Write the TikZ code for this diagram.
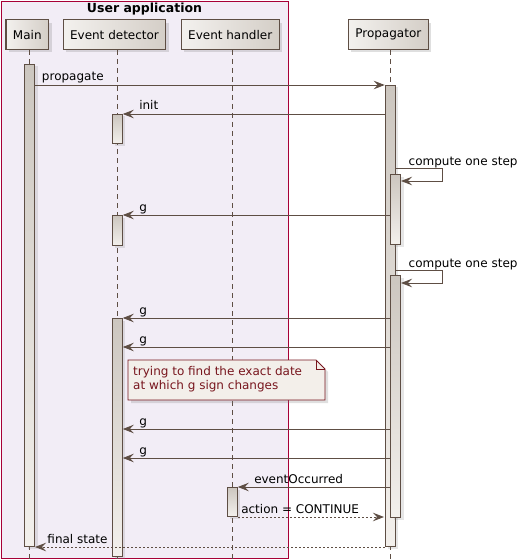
\documentclass[tikz,border=0pt]{standalone}
\usepackage{fontspec}
\setmainfont{DejaVu Sans}
\usetikzlibrary{arrows.meta, calc, shadows}
\definecolor{boxfill}{RGB}{242, 237, 246}
\definecolor{boxline}{RGB}{168, 0, 54}
\definecolor{partlight}{RGB}{243, 241, 238}
\definecolor{partdark}{RGB}{212, 206, 199}
\definecolor{actdark}{RGB}{204, 198, 191}
\definecolor{actlight}{RGB}{243, 240, 236}
\definecolor{brownline}{RGB}{94, 78, 68}
\definecolor{notefill}{RGB}{243, 239, 234}
\definecolor{notetext}{RGB}{120, 22, 30}

\begin{document}
\begin{tikzpicture}[
    x=1pt, y=-1pt,
    userbox/.style={draw=boxline, line width=0.9pt, fill=boxfill, inner sep=0pt},
    boxtitle/.style={anchor=base, inner sep=0pt, font=\fontsize{12.5}{14}\selectfont\bfseries},
    participant/.style={draw=brownline, line width=1.1pt, left color=partlight, right color=partdark,
                        minimum height=29.5pt, inner xsep=7pt, font=\fontsize{12}{14}\selectfont,
                        drop shadow={shadow xshift=3pt, shadow yshift=-3pt, opacity=0.25}},
    lifeline/.style={draw=brownline, line width=0.9pt, dash pattern=on 5pt off 4pt},
    activation/.style={draw=brownline, line width=1pt, top color=actdark, bottom color=actlight,
                       anchor=north, minimum width=10pt, inner sep=0pt,
                       drop shadow={shadow xshift=3pt, shadow yshift=-2pt, opacity=0.2}},
    msg/.style={draw=brownline, line width=0.9pt, -{Stealth[length=11pt, width=8.5pt, inset=4pt]}},
    ret/.style={msg, dash pattern=on 2pt off 2pt},
    lbl/.style={anchor=base west, inner sep=0pt, font=\fontsize{12}{14}\selectfont, text=black},
    note/.style={draw=notetext, line width=0.9pt, fill=notefill,
                 drop shadow={shadow xshift=3pt, shadow yshift=-3pt, opacity=0.25}},
    notelabel/.style={anchor=north west, inner sep=0pt, align=left, text=notetext,
                      font=\fontsize{12}{14}\selectfont}
]
    \useasboundingbox (0,0) rectangle (532,559);
    \coordinate (bottom) at (0,559);

    % User application box
    \node[userbox, minimum width=287, minimum height=557] (userapp) at (144.5,279.5) {};
    \node[boxtitle] (apptitle) at (144.5,13) {User application};

    % Participants
    \node[participant] (main) at (27.3,34.7) {Main};
    \node[participant] (detector) at (114.5,34.7) {Event detector};
    \node[participant] (handler) at (230.2,34.7) {Event handler};
    \node[participant] (propagator) at (388.3,34.7) {Propagator};

    % Lifelines
    \draw[lifeline] ([xshift=2pt]main.south) -- ([xshift=2pt]main.south |- bottom);
    \draw[lifeline] ([xshift=2.5pt]detector.south) -- ([xshift=2.5pt]detector.south |- bottom);
    \draw[lifeline] ([xshift=2pt]handler.south) -- ([xshift=2pt]handler.south |- bottom);
    \draw[lifeline] ([xshift=2pt]propagator.south) -- ([xshift=2pt]propagator.south |- bottom);

    % Activations
    \node[activation, minimum height=482] (actMain) at (29.5,64) {};
    \node[activation, minimum height=461] (actProp) at (390.2,85) {};
    \node[activation, minimum height=29] (actDetA) at (117.3,114) {};
    \node[activation, minimum height=70] (actStepA) at (395.5,174) {};
    \node[activation, minimum height=30] (actDetB) at (117.3,215) {};
    \node[activation, minimum height=242] (actStepB) at (395.5,275) {};
    \node[activation, minimum height=238] (actDetC) at (117.3,318) {};
    \node[activation, minimum height=29] (actHandler) at (232.3,487) {};

    % Messages
    \draw[msg] (actMain.east |- actProp.north) -- node[lbl, pos=0, xshift=6.5pt, yshift=4pt] {propagate} (actProp.north west);
    \draw[msg] (actProp.west |- actDetA.north) -- node[lbl, pos=1, xshift=16pt, yshift=4pt] {init} (actDetA.north east);
    \draw[msg] ($(actProp.east |- actStepA.north)+(0,-6)$) -- node[lbl, pos=0, xshift=12.5pt, yshift=3pt] {compute one step}
        ++(47,0) -- ++(0,13) -- ($(actStepA.north east)+(0,7)$);
    \draw[msg] (actStepA.west |- actDetB.north) -- node[lbl, pos=1, xshift=16pt, yshift=4pt] {g} (actDetB.north east);
    \draw[msg] ($(actProp.east |- actStepB.north)+(0,-5)$) -- node[lbl, pos=0, xshift=12.5pt, yshift=3pt] {compute one step}
        ++(47,0) -- ++(0,13) -- ($(actStepB.north east)+(0,8)$);
    \draw[msg] (actStepB.west |- actDetC.north) -- node[lbl, pos=1, xshift=16pt, yshift=4pt] {g} (actDetC.north east);
    \draw[msg] ($(actStepB.west |- actDetC.north)+(0,29)$) -- node[lbl, pos=1, xshift=16pt, yshift=4pt] {g} ($(actDetC.north east)+(0,29)$);

    % Note
    \draw[note] (128,360) -- (316,360) -- (325,369) -- (325,400) -- (128,400) -- cycle;
    \draw[draw=notetext, line width=0.9pt] (316,360) -- (316,369) -- (325,369);
    \node[notelabel] (notetxt) at (133,366) {trying to find the exact date\\at which g sign changes};

    \draw[msg] ($(actStepB.west |- actDetC.north)+(0,111)$) -- node[lbl, pos=1, xshift=16pt, yshift=4pt] {g} ($(actDetC.north east)+(0,111)$);
    \draw[msg] ($(actStepB.west |- actDetC.north)+(0,140)$) -- node[lbl, pos=1, xshift=16pt, yshift=4pt] {g} ($(actDetC.north east)+(0,140)$);
    \draw[msg] (actStepB.west |- actHandler.north) -- node[lbl, pos=1, xshift=16pt, yshift=4pt] {eventOccurred} (actHandler.north east);
    \draw[ret, shorten >=6pt] (actHandler.south east) -- node[lbl, pos=0, xshift=3pt, yshift=4pt] {action = CONTINUE} (actStepB.west |- actHandler.south);
    \draw[ret] (actProp.south west) -- node[lbl, pos=1, xshift=12pt, yshift=4pt] {final state} (actMain.south east);
\end{tikzpicture}
\end{document}
